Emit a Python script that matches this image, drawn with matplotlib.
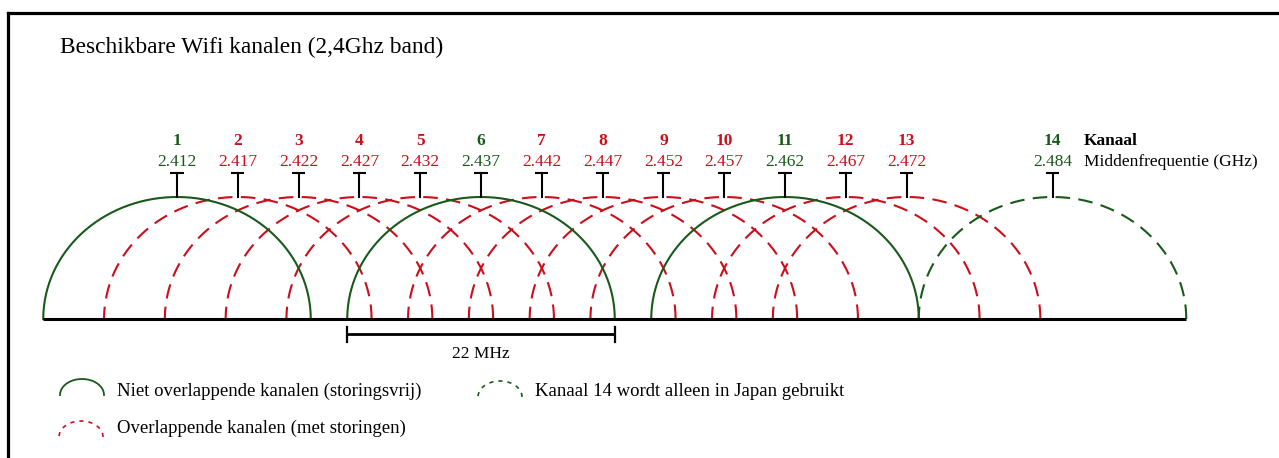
"""WiFi 2.4 GHz channel overview (Dutch labels), redrawn with matplotlib."""
import numpy as np
import matplotlib
matplotlib.use("Agg")
import matplotlib.pyplot as plt

plt.rcParams["font.family"] = ["Liberation Serif", "DejaVu Serif"]

# --- data -------------------------------------------------------------------
CHANNELS = [1, 2, 3, 4, 5, 6, 7, 8, 9, 10, 11, 12, 13, 14]
FREQS_MHZ = [2412, 2417, 2422, 2427, 2432, 2437, 2442, 2447, 2452, 2457,
             2462, 2467, 2472, 2484]
NON_OVERLAP = [1, 6, 11]
JAPAN_ONLY = [14]
BANDWIDTH_MHZ = 22

TITLE = "Beschikbare Wifi kanalen (2,4Ghz band)"
ROW_LABELS = ["Kanaal", "Middenfrequentie (GHz)"]
LEGEND_LABELS = ["Niet overlappende kanalen (storingsvrij)",
                 "Overlappende kanalen (met storingen)",
                 "Kanaal 14 wordt alleen in Japan gebruikt"]

GREEN = "#19591a"
RED = "#cc0d1a"

# --- canvas: pixel -> data helpers (layout only) ----------------------------
W, H = 1279, 458
PX_PER_MHZ = 12.16
X0_PX, X0_MHZ = 177, FREQS_MHZ[0]
BASE_PX, UNIT_PX = 319, 122


def dx(px):
    return X0_MHZ + (px - X0_PX) / PX_PER_MHZ


def dy(py):
    return (BASE_PX - py) / UNIT_PX


fig = plt.figure(figsize=(W / 100, H / 100), dpi=100)
ax = fig.add_axes([8 / W, 0, 1 - 8 / W, (H - 13) / H])
ax.set_xlim(dx(8), dx(W))
ax.set_ylim(dy(H), dy(13))
ax.set_xticks([])
ax.set_yticks([])
for side in ("right", "bottom"):
    ax.spines[side].set_visible(False)
for side in ("top", "left"):
    ax.spines[side].set_linewidth(2.3)


def arc(cx, half_w, h, y0=0.0, n=200):
    t = np.linspace(0, np.pi, n)
    return cx + half_w * np.cos(t), y0 + h * np.sin(t)


half = BANDWIDTH_MHZ / 2
DASH = (7, 4)

# overlapping (red) first, then green on top
for ch, f in zip(CHANNELS, FREQS_MHZ):
    if ch in NON_OVERLAP or ch in JAPAN_ONLY:
        continue
    x, y = arc(f, half, 1.0)
    ax.plot(x, y, color=RED, lw=1.5, dashes=DASH, zorder=2)

for ch, f in zip(CHANNELS, FREQS_MHZ):
    x, y = arc(f, half, 1.0)
    if ch in NON_OVERLAP:
        ax.plot(x, y, color=GREEN, lw=1.5, zorder=3)
    elif ch in JAPAN_ONLY:
        ax.plot(x, y, color=GREEN, lw=1.5, dashes=DASH, zorder=3)

# baseline
ax.plot([FREQS_MHZ[0] - half, FREQS_MHZ[-1] + half], [0, 0],
        color="black", lw=2.2, solid_capstyle="butt", zorder=4)

# T markers and labels
t_top = dy(173)
cap = 0.55
for ch, f in zip(CHANNELS, FREQS_MHZ):
    ax.plot([f, f], [1.0, t_top], color="black", lw=1.5, zorder=4)
    ax.plot([f - cap, f + cap], [t_top, t_top], color="black", lw=1.5,
            solid_capstyle="butt", zorder=4)
    col = GREEN if (ch in NON_OVERLAP or ch in JAPAN_ONLY) else RED
    ax.text(f, dy(145), str(ch), color=col, fontsize=12.5, fontweight="bold",
            ha="center", va="baseline")
    ax.text(f, dy(166), f"{f / 1000:.3f}", color=col, fontsize=12.5,
            ha="center", va="baseline")

ax.text(dx(1084), dy(145), ROW_LABELS[0], fontsize=12.5, fontweight="bold",
        ha="left", va="baseline")
ax.text(dx(1084), dy(166), ROW_LABELS[1], fontsize=12.5,
        ha="left", va="baseline")

ax.text(dx(60), dy(53), TITLE, fontsize=16.8, ha="left", va="baseline")

# 22 MHz bracket under channel 6
f6 = FREQS_MHZ[CHANNELS.index(6)]
yb = dy(334)
ax.plot([f6 - half, f6 + half], [yb, yb], color="black", lw=2.0,
        solid_capstyle="butt")
for xe in (f6 - half, f6 + half):
    ax.plot([xe, xe], [dy(327), dy(342)], color="black", lw=1.6)
ax.text(f6, dy(358), f"{BANDWIDTH_MHZ} MHz", fontsize=12.5,
        ha="center", va="baseline")

# legend
icon_hw = 22 / PX_PER_MHZ
icon_h = 16 / UNIT_PX
legend_items = [
    (dx(82), dy(395), dict(color=GREEN, lw=1.3), LEGEND_LABELS[0], dx(117), dy(396)),
    (dx(81), dy(437), dict(color=RED, lw=1.2, dashes=(2.5, 3)), LEGEND_LABELS[1],
     dx(117), dy(433)),
    (dx(500), dy(397), dict(color=GREEN, lw=1.2, dashes=(2.5, 3)), LEGEND_LABELS[2],
     dx(535), dy(396)),
]
for cx, by, style, label, tx, ty in legend_items:
    x, y = arc(cx, icon_hw, icon_h, y0=by)
    ax.plot(x, y, **style)
    ax.text(tx, ty, label, fontsize=13.5, ha="left", va="baseline")

fig.savefig("out.png", dpi=100)
